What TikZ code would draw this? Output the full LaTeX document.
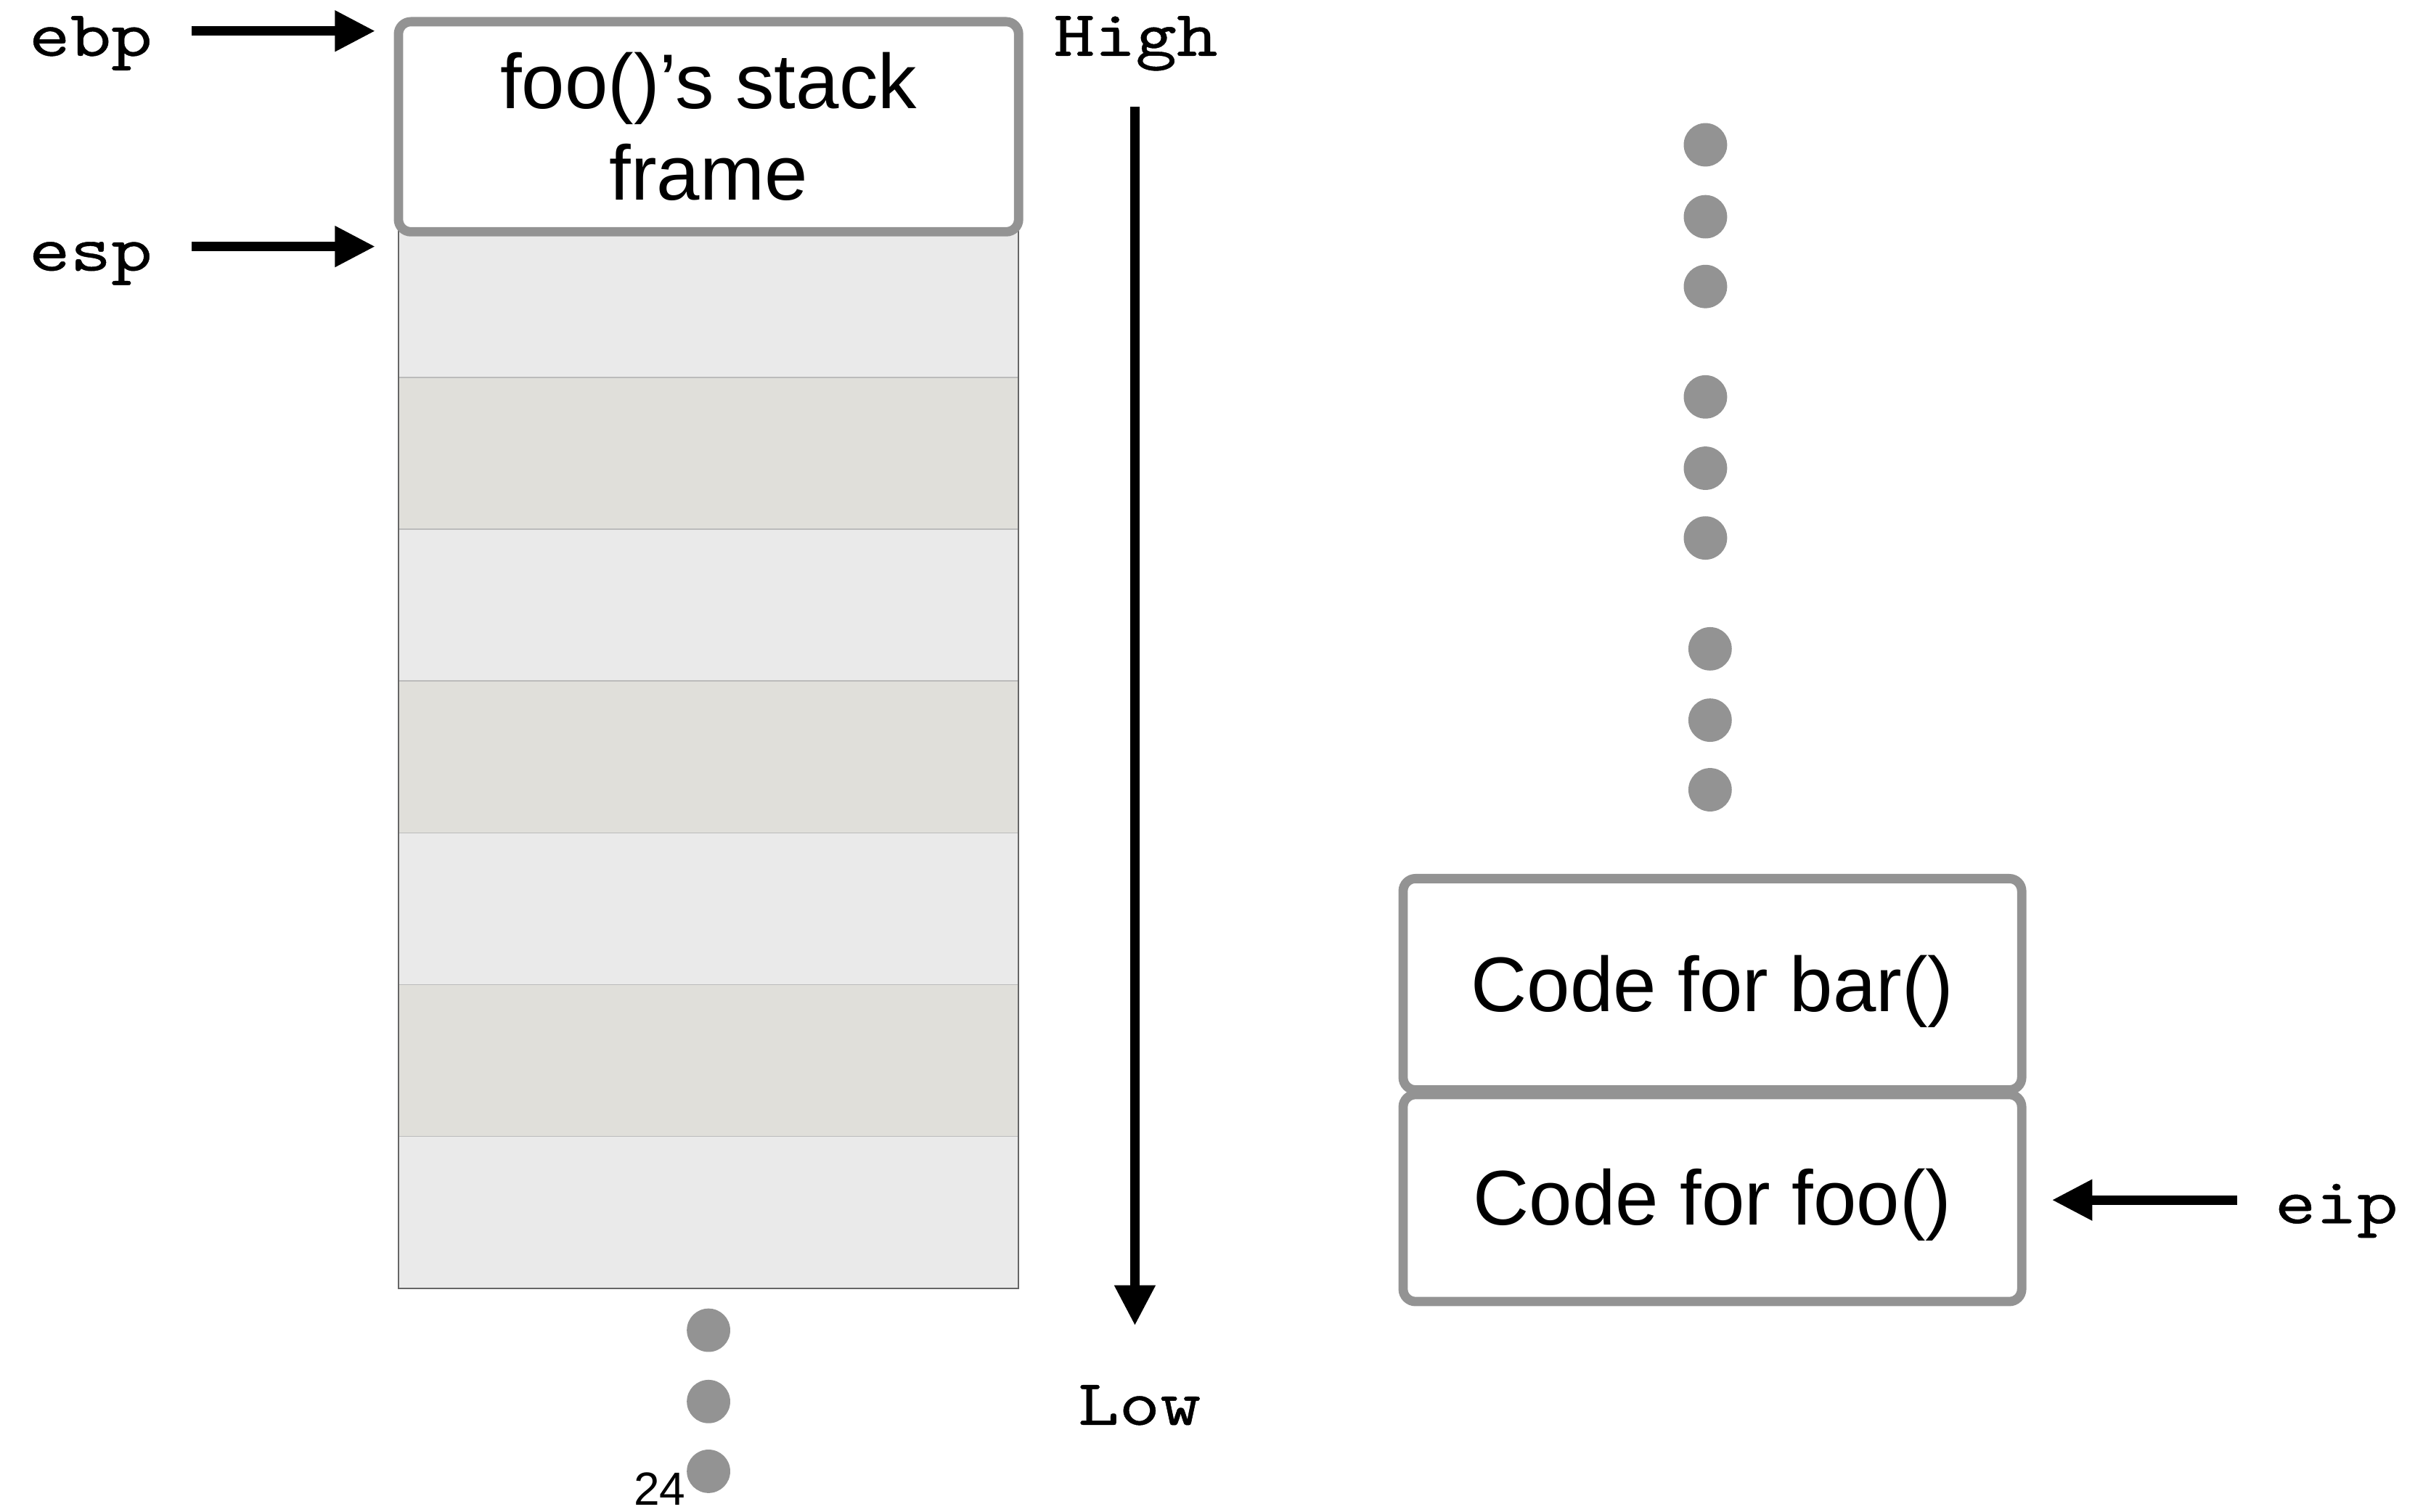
\documentclass[tikz,border=0pt]{standalone}
\usepackage{fontspec}
\setmainfont{Liberation Sans}
\newfontfamily\regfont{lmmono10-regular.otf}[FakeBold=0.5,FakeStretch=1.2]
\usetikzlibrary{arrows.meta}
\definecolor{boxgray}{HTML}{939393}
\definecolor{rowlight}{HTML}{EAEAEA}
\definecolor{rowdark}{HTML}{E0DFDA}
\definecolor{sepgray}{HTML}{BBBBBB}
\definecolor{colborder}{HTML}{666666}
\newcommand{\regtxt}[1]{{\regfont\fontsize{21}{21}\selectfont #1}}
\begin{document}
\begin{tikzpicture}[x=0.5pt,y=-0.5pt,
  arr/.style={line width=3pt,-{Triangle[length=13pt,width=12.5pt]}},
  reg/.style={anchor=base,inner sep=0pt},
  framebox/.style={draw=boxgray,line width=3pt,rounded corners=4pt,fill=white,inner sep=0pt},
  codetext/.style={font=\fontsize{25}{30}\selectfont,text height=17.5pt,text depth=0pt},
  dotn/.style={circle,fill=boxgray,minimum size=14pt,inner sep=0pt}]
\useasboundingbox (0,0) rectangle (1568,975);

% stack column
\foreach \i in {0,...,6} {
  \pgfmathsetmacro{\ya}{145.6+97.9*\i}
  \pgfmathsetmacro{\yb}{145.6+97.9*(\i+1)}
  \ifodd\i \def\rowcol{rowdark}\else\def\rowcol{rowlight}\fi
  \fill[\rowcol] (257,\ya) rectangle (657,\yb);
}
\foreach \i in {1,...,6} {
  \draw[sepgray,line width=0.4pt] (257,{145.6+97.9*\i}) -- (657,{145.6+97.9*\i});
}
\draw[colborder,line width=0.5pt] (257,145.6) rectangle (657,830.9);

% foo's stack frame
\node[framebox,minimum width=200pt,minimum height=67.75pt,align=center,
      font=\fontsize{25}{29.5}\selectfont] (fooframe) at (457,81.75) {foo()’s stack\\frame};

% code boxes
\node[framebox,codetext,minimum width=199.5pt,minimum height=68.15pt] (barcode) at (1104.5,634.85) {Code for bar()};
\node[framebox,codetext,minimum width=199.5pt,minimum height=66.75pt] (foocode) at (1104.5,772.75) {Code for foo()};

% register labels and arrows
\node[reg] (ebp) at (58.5,36) {\regtxt{ebp}};
\node[reg] (esp) at (58.5,174.5) {\regtxt{esp}};
\node[reg] (eip) at (1507,789) {\regtxt{eip}};
\coordinate (ebptip) at (242,20);
\coordinate (esptip) at (242,159);
\coordinate (eiptip) at (1323.5,774);
\draw[arr] ([xshift=12.5pt]ebp.east |- ebptip) -- (ebptip);
\draw[arr] ([xshift=12.5pt]esp.east |- esptip) -- (esptip);
\draw[arr] ([xshift=-12pt]eip.west |- eiptip) -- (eiptip);

% High / Low
\node[reg] (high) at (732.5,36) {\regtxt{High}};
\node[reg] (low) at (735,919) {\regtxt{Low}};
\coordinate (hlstart) at (732,69);
\coordinate (hlend) at (732,855);
\draw[arr] (hlstart) -- (hlend);

% dots
\foreach \n/\x/\y in {b1/457/858, b2/457/904, b3/457/949,
  r1/1100/93.4, r2/1100/139.8, r3/1100/184.8,
  r4/1100/256, r5/1100/302, r6/1100/347,
  r7/1103/418.5, r8/1103/464.5, r9/1103/509.4} {
  \node[dotn] (\n) at (\x,\y) {};
}

% page number
\node[anchor=base,inner sep=0pt,font=\fontsize{15}{15}\selectfont] (pagenum) at (425.5,971) {24};
\end{tikzpicture}
\end{document}
